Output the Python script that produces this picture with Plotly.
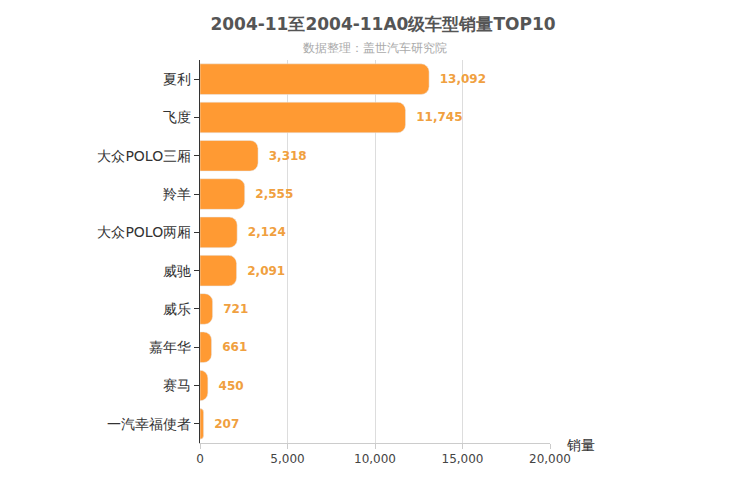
import plotly.graph_objects as go

categories = ["夏利", "飞度", "大众POLO三厢", "羚羊", "大众POLO两厢", "威驰", "威乐", "嘉年华", "赛马", "一汽幸福使者"]
sales = [13092, 11745, 3318, 2555, 2124, 2091, 721, 661, 450, 207]
xticks = [0, 5000, 10000, 15000, 20000]

fig = go.Figure(go.Bar(
    y=categories, x=sales, orientation="h",
    marker=dict(color="#FF9A33", cornerradius=8),
    width=0.8,
    text=[f"  <b>{v:,}</b>" for v in sales], textposition="outside",
    textfont=dict(color="#F0A040", size=12, family="DejaVu Sans"),
    cliponaxis=False,
))
fig.update_layout(
    width=750, height=500, plot_bgcolor="white", paper_bgcolor="white",
    margin=dict(l=192, r=208, t=52, b=65),
    showlegend=False, bargap=0.2,
    font=dict(family="DejaVu Sans", color="#333"),
    title=dict(text="<b>2004-11至2004-11A0级车型销量TOP10</b>", x=0.5, xanchor="center", y=0.98,
               font=dict(size=17, color="#555")),
    annotations=[
        dict(text="数据整理：盖世汽车研究院", x=0.5, xref="paper", y=1.055, yref="paper",
             showarrow=False, font=dict(size=12, color="#aaa")),
        dict(text="销量", x=1.04, xref="paper", xanchor="left", y=-0.005, yref="paper", yanchor="middle",
             showarrow=False, font=dict(size=14, color="#333")),
    ],
)
fig.update_xaxes(range=[0, 20000], tickvals=xticks, tickformat=",", showgrid=True, gridcolor="#ddd",
                 zeroline=False, showline=True, linecolor="#ccc", ticks="outside", tickcolor="#ccc",
                 tickfont=dict(size=12, color="#444"))
fig.update_yaxes(autorange="reversed", showgrid=False, showline=True, linecolor="#333",
                 ticks="outside", tickcolor="#333", tickfont=dict(size=14, color="#333"),
                 minor=dict(showgrid=True, gridcolor="#ddd", tick0=0.5, dtick=1))
fig.write_html("out.html")
